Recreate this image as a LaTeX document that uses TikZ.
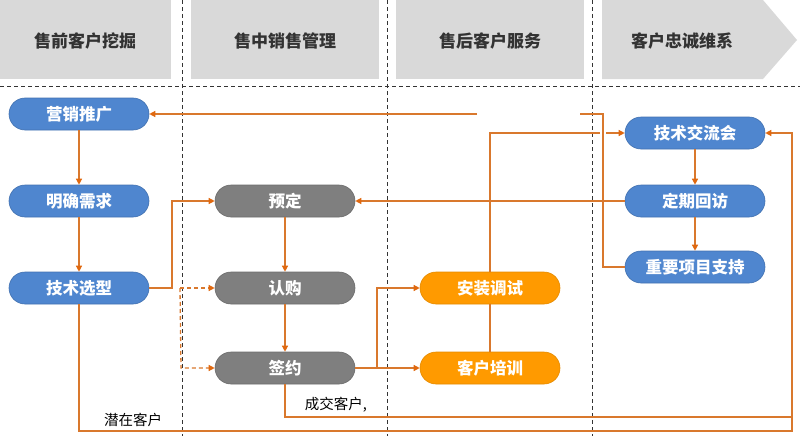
\documentclass[tikz,border=0pt]{standalone}
\usepackage{fontspec}
\setmainfont{Noto Sans CJK SC}
\usetikzlibrary{arrows.meta}
\definecolor{hdr}{HTML}{D9D9D9}
\definecolor{nblue}{HTML}{4F86CF}
\definecolor{ngray}{HTML}{7F7F7F}
\definecolor{norange}{HTML}{FF9A00}
\definecolor{lorange}{HTML}{D9782D}
\definecolor{aorange}{HTML}{E0680F}
\definecolor{dline}{HTML}{333333}
\tikzset{
  hdrbox/.style={fill=hdr,draw=none},
  hdrtext/.style={font=\fontsize{17}{19}\selectfont\bfseries, text=black!80},
  proc/.style={minimum width=140pt,minimum height=32pt,rounded corners=16pt,text=white,font=\fontsize{16.5}{18}\selectfont\bfseries,inner sep=0pt},
  pblue/.style={proc,fill=nblue,draw=nblue!85!black,line width=0.6pt},
  pgray/.style={proc,fill=ngray,draw=ngray!85!black,line width=0.6pt},
  porange/.style={proc,fill=norange,draw=norange!90!black,line width=0.6pt},
  conn/.style={draw=lorange,line width=1.3pt},
  arr/.style={conn,-{Triangle[length=6pt,width=6pt,color=aorange]}},
  darr/.style={arr,dash pattern=on 4pt off 3pt},
  sep/.style={draw=dline,line width=1pt,dash pattern=on 4pt off 3pt},
  lbl/.style={font=\fontsize{14.5}{16}\selectfont,text=black}
}
\begin{document}
\begin{tikzpicture}[x=1pt,y=-1pt]
\useasboundingbox (0,0) rectangle (800,436);
% headers
\fill[hdrbox] (0,0) rectangle (171,79);
\fill[hdrbox] (191,0) rectangle (379,79);
\fill[hdrbox] (396,0) rectangle (584,79);
\fill[hdrbox] (602,0) -- (763,0) -- (797,40) -- (763,79) -- (602,79) -- cycle;
\node[hdrtext] (h1) at (85,41) {售前客户挖掘};
\node[hdrtext] (h2) at (285,41) {售中销售管理};
\node[hdrtext] (h3) at (490,41) {售后客户服务};
\node[hdrtext] (h4) at (682,41) {客户忠诚维系};
% separators
\draw[sep] (0,86) -- (800,86);
\draw[sep] (182,0) -- (182,436);
\draw[sep] (387,0) -- (387,436);
\draw[sep] (592,0) -- (592,436);
% nodes
\node[pblue] (yx) at (79,114) {营销推广};
\node[pblue] (mq) at (79,201) {明确需求};
\node[pblue] (jx) at (79,288) {技术选型};
\node[pgray] (yd) at (285,201) {预定};
\node[pgray] (rg) at (285,288) {认购};
\node[pgray] (qy) at (285,368) {签约};
\node[porange] (az) at (490,288) {安装调试};
\node[porange] (px) at (490,368) {客户培训};
\node[pblue] (jl) at (695,133) {技术交流会};
\node[pblue] (hf) at (695,201) {定期回访};
\node[pblue] (zc) at (695,267) {重要项目支持};
% labels
\node[lbl] (l1) at (133,420) {潜在客户};
\node[lbl] (l2) at (336,405) {成交客户,};
% coordinates
\coordinate (d1) at (180,288);
\coordinate (d2) at (181,368);
\coordinate (g1) at (580,114);
\coordinate (g2) at (477,114);
\coordinate (g3) at (600,133);
\coordinate (g4) at (606,133);
% connectors
\draw[arr] (yx) -- (mq);
\draw[arr] (mq) -- (jx);
\draw[arr] (jx.east) -- (172,288) -- (172,201) -- (yd.west);
\draw[darr] (d1) -- (rg.west);
\draw[darr] (d1) -- (d2) -- (qy.west);
\draw[arr] (yd) -- (rg);
\draw[arr] (rg) -- (qy);
\draw[arr] (qy.east) -- (px.west);
\draw[arr] (377,368) -- (377,288) -- (az.west);
\draw[conn] (px.north) -- (az.south);
\draw[conn] (az.north) |- (g3);
\draw[arr] (g4) -- (jl.west);
\draw[arr] (qy.south) -- (285,417) -- (792,417) -- (792,133) -- (jl.east);
\draw[conn] (jx.south) -- (79,431) -- (792,431) -- (792,417);
\draw[arr] (hf.west) -- (yd.east);
\draw[arr] (jl) -- (hf);
\draw[arr] (hf) -- (zc);
\draw[conn] (zc.west) -- (603,267) -- (603,114) -- (g1);
\draw[arr] (g2) -- (yx.east);
\end{tikzpicture}
\end{document}
